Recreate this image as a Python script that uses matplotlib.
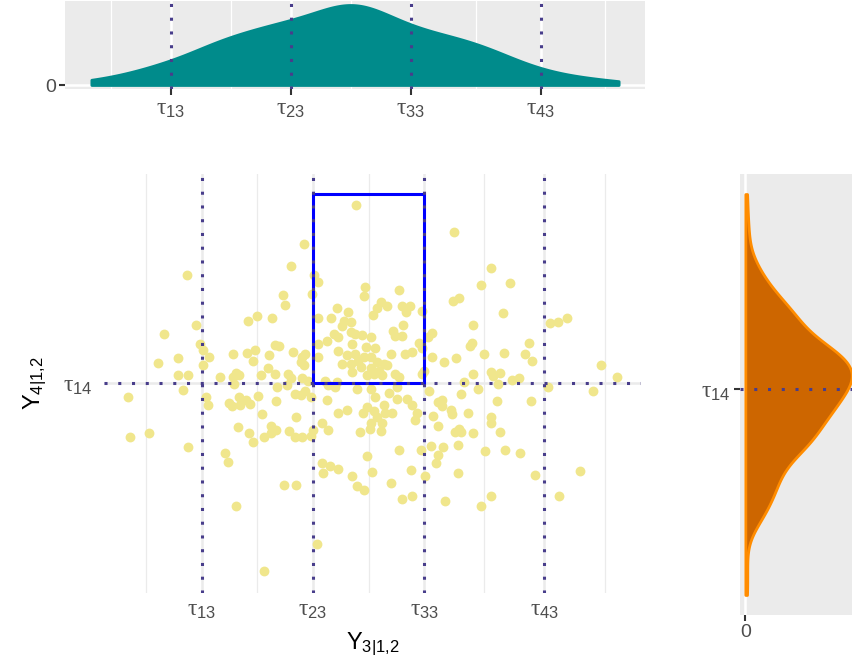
import numpy as np
import matplotlib
matplotlib.use("Agg")
import matplotlib.pyplot as plt
from matplotlib.patches import Rectangle

plt.rcParams["font.family"] = ["Liberation Sans", "DejaVu Sans"]
plt.rcParams["mathtext.fontset"] = "custom"
plt.rcParams["mathtext.rm"] = "Liberation Serif"
plt.rcParams["mathtext.sf"] = "Liberation Sans"
plt.rcParams["mathtext.it"] = "Liberation Sans:italic"

# thresholds of the two ordinal margins
tau3 = [-1.5, -0.5, 0.5, 1.58]
tau3_labels = [r"$\mathrm{\tau}_{\mathsf{13}}$", r"$\mathrm{\tau}_{\mathsf{23}}$",
               r"$\mathrm{\tau}_{\mathsf{33}}$", r"$\mathrm{\tau}_{\mathsf{43}}$"]
tau14 = 0.0
tau14_label = r"$\mathrm{\tau}_{\mathsf{14}}$"
box_top = 1.70
x_title = r"$\mathsf{Y}_{\mathsf{3|1{,}2}}$"
y_title = r"$\mathsf{Y}_{\mathsf{4|1{,}2}}$"

# latent scores Y3|1,2 (x) and Y4|1,2 (y)
y3 = np.array([
    -1.63, -1.55, -1.84, -1.08, -1.00, -0.87, -0.77, -0.75, -1.51, -1.49,
    -1.43, -1.71, -1.89, -1.49, -1.22, -1.09, -1.02, -1.04, -0.89, -0.84,
    -0.80, -1.71, -1.62, -1.33, -1.19, -1.16, -1.22, -1.21, -0.97, -0.90,
    -0.84, -1.67, -0.82, -2.16, -2.14, -1.97, -1.62, -1.46, -1.44, -1.25,
    -1.23, -1.16, -1.15, -1.10, -1.06, -0.99, -0.96, -1.17, -1.07, -1.04,
    -0.94, -0.88, -0.88, -0.83, -0.83, -1.29, -1.26, -1.19, -0.94, -0.76,
    -0.11, -0.58, 0.77, -0.70, -0.49, -0.45, -0.51, -0.03, -0.04, 0.27,
    -0.45, -0.34, -0.28, -0.18, -0.22, -0.16, -0.24, 0.04, 0.08, 0.11,
    0.17, 0.30, 0.34, 0.37, 0.48, 0.76, 0.81, 0.31, 0.22, 0.24,
    0.30, 0.57, 0.53, 0.45, 0.48, 0.39, 0.33, 0.57, 0.68, 0.79,
    -0.16, -0.12, -0.06, 0.02, -0.31, -0.27, -0.37, -0.15, -0.02, 0.06,
    -0.45, -0.27, -0.19, -0.12, -0.09, -0.04, 0.02, 0.08, 0.14, 0.20,
    -0.45, -0.24, -0.16, -0.07, 0.02, 0.09, 0.17, -0.15, -0.01, 0.05,
    0.12, 0.24, 0.27, 0.50, 0.48, -0.68, -0.60, -0.57, -0.61, -0.58,
    -0.72, -0.70, -0.60, -0.54, -0.39, -0.28, 1.10, 1.01, 1.27, 1.21,
    0.94, 0.93, 0.91, 1.04, 1.22, 1.44, 1.41, 1.47, 1.63, 1.70,
    1.78, 2.09, 2.23, 0.94, 0.86, 1.10, 1.12, 1.18, 1.29, 1.35,
    1.16, 0.98, 1.61, 2.02, -0.73, -0.66, -0.61, -0.57, -0.52, -0.65,
    -0.37, -0.36, -0.30, -0.10, 0.02, 0.06, 0.18, 0.26, 0.26, 0.35,
    0.39, -0.01, -0.05, 0.05, 0.14, 0.15, 0.21, 0.08, -0.27, -0.19,
    0.02, 0.12, 0.01, 0.11, -0.08, 0.44, 0.42, -0.42, -0.36, -0.50,
    -0.71, -0.66, -0.60, -0.52, 0.27, -0.01, -0.42, -0.35, -0.41, -0.27,
    -0.15, 0.03, -0.10, -0.04, 0.20, 0.38, 0.30, 0.39, -0.65, -0.46,
    0.47, 0.51, 0.56, 0.62, 0.61, 0.67, 0.69, 0.58, 0.62, 0.54,
    0.62, 0.66, 0.66, 0.74, 0.75, 0.78, 0.80, 0.83, 0.80, 1.15,
    1.46, 0.89, 1.10, 1.10, 0.81, 0.83, 0.94, 1.18, 1.05, 1.23,
    1.36, 1.50, 1.90, 1.71, 1.10, 1.01,
])
y4 = np.array([
    0.97, 0.52, 0.44, 0.56, 0.60, 0.58, 0.79, 0.70, 0.35, 0.30,
    0.23, 0.22, 0.18, 0.16, 0.26, 0.27, 0.30, 0.20, 0.25, 0.34,
    0.33, 0.07, 0.07, 0.05, 0.09, 0.07, 0.05, -0.01, 0.07, 0.13,
    0.08, -0.06, -0.04, -0.13, -0.49, -0.45, -0.58, -0.13, -0.20, -0.18,
    -0.21, -0.13, -0.20, -0.15, -0.19, -0.12, -0.28, -0.40, -0.45, -0.53,
    -0.49, -0.39, -0.45, -0.42, -0.16, -0.63, -0.71, -1.11, -1.69, -0.92,
    1.60, 1.25, 1.36, 1.05, 0.97, 0.91, 0.80, 0.86, 0.78, 0.84,
    0.58, 0.58, 0.67, 0.64, 0.56, 0.55, 0.51, 0.61, 0.67, 0.73,
    0.69, 0.69, 0.64, 0.69, 0.65, 0.74, 0.76, 0.52, 0.47, 0.42,
    0.42, 0.45, 0.41, 0.36, 0.31, 0.28, 0.26, 0.23, 0.19, 0.22,
    0.46, 0.44, 0.43, 0.41, 0.44, 0.41, 0.38, 0.35, 0.32, 0.31,
    0.35, 0.29, 0.25, 0.26, 0.20, 0.23, 0.23, 0.19, 0.17, 0.26,
    0.23, 0.17, 0.17, 0.14, 0.13, 0.11, 0.16, 0.10, 0.07, 0.08,
    0.07, 0.08, 0.05, 0.11, 0.08, 0.28, 0.23, 0.26, 0.19, 0.16,
    0.08, 0.04, 0.04, 0.02, 0.02, 0.01, 1.03, 0.88, 0.90, 0.63,
    0.52, 0.36, 0.33, 0.26, 0.27, 0.36, 0.26, 0.20, 0.54, 0.55,
    0.58, 0.16, 0.05, 0.08, 0.01, 0.10, 0.06, 0.09, 0.03, 0.04,
    -0.01, -0.05, -0.04, -0.07, -0.02, -0.10, -0.11, -0.07, -0.13, -0.31,
    -0.15, -0.02, -0.04, -0.05, -0.05, -0.13, -0.09, -0.04, -0.14, -0.14,
    -0.20, -0.22, -0.27, -0.25, -0.20, -0.27, -0.27, -0.31, -0.27, -0.24,
    -0.36, -0.36, -0.41, -0.43, -0.44, -0.27, -0.33, -0.36, -0.42, -0.42,
    -0.43, -0.49, -0.49, -0.48, -0.60, -0.66, -0.72, -0.75, -0.81, -0.77,
    -0.84, -0.80, -0.93, -0.96, -0.90, -0.78, -1.04, -1.02, -0.92, -1.45,
    -0.60, -0.84, -0.57, -0.65, -0.72, -0.58, -1.06, -0.30, -0.39, -0.07,
    -0.17, -0.15, -0.21, -0.24, -0.28, -0.44, -0.56, -0.10, -0.81, -0.16,
    -0.16, -0.27, -0.31, -0.36, -0.41, -0.44, -0.45, -0.44, -0.61, -0.60,
    -0.63, -0.83, -0.79, -1.02, -1.02, -1.11,
])

TEAL = "#008B8B"
ORANGE_FILL = "#CD6600"
ORANGE_LINE = "#FF8C00"
KHAKI = "#F0E68C"
DOT = "#483D8B"
PANEL = "#EBEBEB"
DOTTED = (0, (1, 3.5))
TAU_SIZE = 17
NUM_SIZE = 14


def expand(lo, hi, f=0.05):
    d = hi - lo
    return lo - f * d, hi + f * d


def density_nrd0(v, n=512):
    # gaussian kde with R's bw.nrd0, evaluated over the data range
    v = np.asarray(v, dtype=float)
    sd = v.std(ddof=1)
    q75, q25 = np.percentile(v, [75, 25])
    bw = 0.9 * min(sd, (q75 - q25) / 1.34) * len(v) ** -0.2
    grid = np.linspace(v.min(), v.max(), n)
    z = (grid[:, None] - v[None, :]) / bw
    dens = np.exp(-0.5 * z ** 2).sum(axis=1) / (len(v) * bw * np.sqrt(2 * np.pi))
    return grid, dens


def minor_mids(b, lims):
    b = list(b)
    if lims[0] < b[0]:
        b = [b[0] - (b[1] - b[0])] + b
    if lims[1] > b[-1]:
        b = b + [b[-1] + (b[-1] - b[-2])]
    mids = [(a + c) / 2 for a, c in zip(b[:-1], b[1:])]
    return [m for m in mids if lims[0] <= m <= lims[1]]


W, H = 852, 667
fig = plt.figure(figsize=(W / 100, H / 100), dpi=100)


def px_axes(left, top, right, bottom):
    return fig.add_axes([left / W, 1 - bottom / H, (right - left) / W, (bottom - top) / H])


ax_top = px_axes(65, 1, 645, 89)
ax = px_axes(103.6, 174, 641.2, 593)
ax_r = px_axes(740, 174, 857, 615)

xlim = expand(y3.min(), y3.max())

# -----------------------
# main scatter
# -----------------------
ax.set_xlim(xlim)
ax.set_ylim(-1.89, 1.88)
ax.scatter(y3, y4, s=50, c=KHAKI, linewidths=0, zorder=2)
ax.add_patch(Rectangle((tau3[1], tau14), tau3[2] - tau3[1], box_top - tau14,
                       fill=False, ec="blue", lw=2.2, zorder=3))
for t in tau3:
    ax.axvline(t, color=DOT, lw=2.2, ls=DOTTED, zorder=4)
ax.axhline(tau14, color=DOT, lw=2.2, ls=DOTTED, zorder=4)

ax.set_xticks(tau3)
ax.set_xticklabels(tau3_labels, fontsize=TAU_SIZE)
ax.set_xticks(minor_mids(tau3, xlim), minor=True)
ax.set_yticks([tau14])
ax.set_yticklabels([tau14_label], fontsize=TAU_SIZE)
ax.grid(which="major", color=PANEL, lw=1.8)
ax.grid(which="minor", axis="x", color=PANEL, lw=0.9)
ax.set_axisbelow(True)
for s in ax.spines.values():
    s.set_visible(False)
ax.tick_params(which="both", length=0, labelcolor="#4D4D4D")
ax.tick_params(axis="x", pad=4)
ax.tick_params(axis="y", pad=8)
ax.set_xlabel(x_title, fontsize=17, labelpad=7)
ax.set_ylabel(y_title, fontsize=17, labelpad=10)

# -----------------------
# top marginal density
# -----------------------
gx, dx = density_nrd0(y3)
ax_top.set_facecolor(PANEL)
ax_top.fill_between(gx, 0, dx, facecolor=TEAL, edgecolor=TEAL, lw=2, joinstyle="round", zorder=2)
for t in tau3:
    ax_top.axvline(t, color=DOT, lw=2.2, ls=DOTTED, zorder=4)
ax_top.set_xlim(xlim)
ax_top.set_ylim(-0.05 * dx.max(), 1.05 * dx.max())
ax_top.set_xticks(tau3)
ax_top.set_xticklabels(tau3_labels, fontsize=TAU_SIZE)
ax_top.set_xticks(minor_mids(tau3, xlim), minor=True)
ax_top.set_yticks([0])
ax_top.set_yticklabels(["0"], fontsize=NUM_SIZE)
ax_top.grid(which="major", color="white", lw=1.8)
ax_top.grid(which="minor", axis="x", color="white", lw=0.9)
ax_top.set_axisbelow(True)
for s in ax_top.spines.values():
    s.set_visible(False)
ax_top.tick_params(which="major", length=4.5, width=1.5, color="#333333",
                   labelcolor="#4D4D4D", pad=2)
ax_top.tick_params(which="minor", length=0)

# -----------------------
# right marginal density
# -----------------------
gy, dy = density_nrd0(y4)
ax_r.set_facecolor(PANEL)
ax_r.fill_betweenx(gy, 0, dy, facecolor=ORANGE_FILL, edgecolor=ORANGE_LINE, lw=2, zorder=2)
ax_r.axhline(tau14, color=DOT, lw=2.2, ls=DOTTED, zorder=4)
ax_r.set_ylim(expand(y4.min(), y4.max()))
ax_r.set_xlim(-0.05 * dy.max(), 1.05 * dy.max())
ax_r.set_xticks([0])
ax_r.set_xticklabels(["0"], fontsize=NUM_SIZE)
ax_r.set_yticks([tau14])
ax_r.set_yticklabels([tau14_label], fontsize=TAU_SIZE)
ax_r.grid(which="major", color="white", lw=1.8)
ax_r.set_axisbelow(True)
for s in ax_r.spines.values():
    s.set_visible(False)
ax_r.tick_params(which="major", length=4.5, width=1.5, color="#333333",
                 labelcolor="#4D4D4D", pad=2)

fig.savefig("out.png", dpi=100)
